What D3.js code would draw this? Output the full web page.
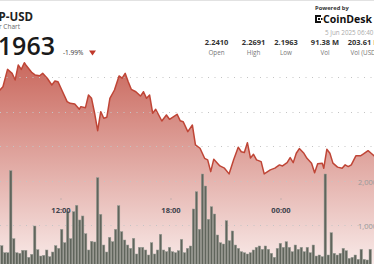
<!DOCTYPE html>
<html>
<head>
<meta charset="utf-8">
<script src="https://cdn.jsdelivr.net/npm/d3@7"></script>
<style>
body { margin: 0; background: #fff; }
svg { display: block; font-family: "Open Sans", sans-serif; }
</style>
</head>
<body>
<script>
// price line (10 min-ish samples, 4 Jun -> 5 Jun 2025)
var priceTimes = ["08:30","08:40","08:50","09:05","09:20","09:30","09:40","09:50","10:00","10:05","10:25","10:35","10:50","11:00","11:15","11:30","11:40","11:50","12:00","12:20","12:30","12:45","13:00","13:05","13:20","13:30","13:40","13:50","14:00","14:10","14:20","14:30","14:40","14:55","15:10","15:20","15:30","15:40","15:50","16:05","16:20","16:30","16:40","16:50","17:00","17:10","17:30","17:45","17:55","18:20","18:30","18:40","18:55","19:10","19:20","19:35","19:50","20:00","20:10","20:20","20:40","20:55","21:10","21:25","21:40","21:50","22:00","22:10","22:20","22:30","22:40","22:55","23:05","23:25","23:40","23:55","00:05","00:20","00:30","00:40","00:50","01:00","01:15","01:25","01:40","01:50","02:00","02:15","02:20","02:30","02:40","02:50","03:05","03:20","03:30","03:40","03:50","04:05","04:20","04:30","04:45","04:55","05:05","05:20"];
var priceValues = [2.2500,2.2525,2.2544,2.2644,2.2621,2.2583,2.2669,2.2644,2.2682,2.2669,2.2625,2.2612,2.2607,2.2621,2.2593,2.2554,2.2577,2.2573,2.2535,2.2458,2.2448,2.2444,2.2414,2.2429,2.2423,2.2496,2.2477,2.2391,2.2290,2.2400,2.2362,2.2368,2.2477,2.2525,2.2606,2.2593,2.2621,2.2573,2.2529,2.2515,2.2490,2.2515,2.2477,2.2496,2.2391,2.2414,2.2346,2.2381,2.2356,2.2385,2.2348,2.2342,2.2285,2.2323,2.2208,2.2189,2.2131,2.2122,2.2054,2.2126,2.2087,2.2074,2.2041,2.2122,2.2195,2.2169,2.2164,2.2221,2.2133,2.2154,2.2122,2.2112,2.2041,2.2064,2.2074,2.2093,2.2087,2.2106,2.2135,2.2106,2.2160,2.2187,2.2160,2.2131,2.2103,2.2048,2.2099,2.2103,2.2074,2.2183,2.2160,2.2103,2.2080,2.2074,2.2093,2.2083,2.2093,2.2145,2.2145,2.2156,2.2175,2.2160,2.2145,2.2120];

// volume bars, left to right
var volumes = [530,370,370,2234,689,370,357,425,425,266,
  334,977,439,295,311,432,280,386,530,470,
  902,598,1302,689,1302,1448,1114,1205,802,432,
  630,614,2075,1243,545,386,720,620,902,1439,
  848,659,
  545,470,698,341,493,493,432,318,598,341,
  432,789,432,393,493,393,370,416,675,370,
  470,523,1364,1757,902,2159,1886,1130,1416,1250,
  773,598,568,1098,643,864,545,470,393,370,
  341,
  370,432,493,523,448,523,448,357,266,470,
  584,493,620,493,393,545,448,493,393,493,
  370,545,295,318,280,2159,318,825,357,318,
  357,470,416,243,266,318,220,448,220,205,
  448];

var priceGrid = [2.22, 2.24, 2.26];
var volGrid = [1000, 2000];
var timeTicks = ["12:00", "18:00", "00:00"];

var statValues = ["2.2410", "2.2691", "2.1963", "91.38 M", "203.61 M"];
var statLabels = ["Open", "High", "Low", "Vol", "Vol (USD)"];

var width = 374, height = 264;

function parseT(s) {
  var h = +s.slice(0, 2), m = +s.slice(3, 5);
  return new Date(2025, 5, h < 8 ? 5 : 4, h, m);
}

var svg = d3.select("body").append("svg")
  .attr("width", width)
  .attr("height", height);

var x = d3.scaleTime()
  .domain([new Date(2025, 5, 4, 12, 0), new Date(2025, 5, 5, 0, 0)])
  .range([61, 281]);
var y = d3.scaleLinear().domain([2.20, 2.26]).range([181, 77]);
var yv = d3.scaleLinear().domain([0, 2000]).range([269, 181]);
var xb = d3.scaleBand().domain(d3.range(volumes.length)).range([0, 372]).padding(0.18);

var pts = priceTimes.map(function(t, i) { return [parseT(t), priceValues[i]]; });

var defs = svg.append("defs");
var grad = defs.append("linearGradient").attr("id", "fillg")
  .attr("gradientUnits", "userSpaceOnUse")
  .attr("x1", 0).attr("x2", 0).attr("y1", 60).attr("y2", 275);
grad.append("stop").attr("offset", 0).attr("stop-color", "#c9675c");
grad.append("stop").attr("offset", 1).attr("stop-color", "#fbf1f0");

// top border
svg.append("line").attr("x1", 0).attr("x2", width).attr("y1", 0.5).attr("y2", 0.5)
  .attr("stroke", "#e2e2e2");

// area under price
svg.append("path").datum(pts)
  .attr("fill", "url(#fillg)")
  .attr("d", d3.area().x(function(d) { return x(d[0]); }).y0(280).y1(function(d) { return y(d[1]); }));

// grid
svg.selectAll(".pg").data(priceGrid).enter().append("line")
  .attr("x1", 0).attr("x2", width)
  .attr("y1", function(d) { return Math.round(y(d)) + 0.5; })
  .attr("y2", function(d) { return Math.round(y(d)) + 0.5; })
  .attr("stroke", "#c4c4c4").attr("stroke-dasharray", "1,5.5");
svg.selectAll(".vg").data(volGrid).enter().append("line")
  .attr("x1", 0).attr("x2", width)
  .attr("y1", function(d) { return Math.round(yv(d)) + 0.5; })
  .attr("y2", function(d) { return Math.round(yv(d)) + 0.5; })
  .attr("stroke", "#c4c4c4").attr("stroke-dasharray", "1,5.5");

// volume bars
svg.selectAll(".bar").data(volumes).enter().append("rect")
  .attr("x", function(d, i) { return xb(i); })
  .attr("width", xb.bandwidth())
  .attr("y", function(d) { return yv(d); })
  .attr("height", function(d) { return yv(0) - yv(d); })
  .attr("fill", "#60655c")
  .attr("stroke", "#9a9d96").attr("stroke-width", 0.5);

// price line
svg.append("path").datum(pts)
  .attr("fill", "none")
  .attr("stroke", "#bf4536")
  .attr("stroke-width", 1.5)
  .attr("stroke-linejoin", "round")
  .attr("d", d3.line().x(function(d) { return x(d[0]); }).y(function(d) { return y(d[1]); }));

// time axis
var tk = svg.selectAll(".tk").data(timeTicks).enter().append("g")
  .attr("transform", function(d) { return "translate(" + x(parseT(d)) + ",0)"; });
tk.append("rect").attr("x", -0.5).attr("y", 198.5).attr("width", 1).attr("height", 1).attr("fill", "#9a9a9a");
tk.append("text").attr("y", 213).attr("text-anchor", "middle")
  .style("font-size", "7.5px").style("font-weight", "bold").attr("fill", "#3c414b")
  .text(function(d) { return d; });

// volume axis labels
svg.selectAll(".vl").data(volGrid).enter().append("text")
  .attr("x", 358).attr("y", function(d) { return yv(d) + 4; })
  .style("font-size", "7.5px").attr("fill", "#999")
  .text(function(d) { return d3.format(",")(d); });

// header left
svg.append("text").attr("x", 33).attr("y", 21).attr("text-anchor", "end")
  .style("font-size", "11.5px").style("font-weight", "bold").attr("fill", "#222")
  .text("XRP-USD");
svg.append("text").attr("x", 20).attr("y", 28.5).attr("text-anchor", "end")
  .style("font-size", "6.5px").attr("fill", "#666")
  .text("24 Hour Chart");
svg.append("text").attr("x", 55).attr("y", 55).attr("text-anchor", "end")
  .style("font-size", "25px").style("font-weight", 600).attr("fill", "#1a1a1a")
  .text("2.1963");
svg.append("text").attr("x", 63).attr("y", 54.5)
  .style("font-size", "6.5px").attr("fill", "#333")
  .text("-1.99%");
svg.append("path").attr("d", "M89,50.5 L96,50.5 L92.5,55.5 Z").attr("fill", "#c0392b");

// header right
svg.append("text").attr("x", 315).attr("y", 9.5)
  .style("font-size", "5.8px").style("font-weight", "bold").attr("fill", "#333")
  .text("Powered by");
var logo = svg.append("g").attr("transform", "translate(315,15)");
logo.append("rect").attr("x", 0).attr("y", 0).attr("width", 2).attr("height", 8).attr("fill", "#111");
logo.append("rect").attr("x", 0).attr("y", 0).attr("width", 6).attr("height", 2).attr("fill", "#111");
logo.append("rect").attr("x", 0).attr("y", 6).attr("width", 6).attr("height", 2).attr("fill", "#111");
logo.append("rect").attr("x", 3).attr("y", 3).attr("width", 2).attr("height", 2).attr("fill", "#111");
logo.append("rect").attr("x", 6).attr("y", 3).attr("width", 1.5).attr("height", 2).attr("fill", "#111");
svg.append("text").attr("x", 323).attr("y", 22.5)
  .style("font-size", "10.5px").style("font-weight", "bold").attr("fill", "#111")
  .text("CoinDesk Data");
svg.append("text").attr("x", 325).attr("y", 34.5)
  .style("font-size", "6.3px").attr("fill", "#aaa")
  .text("5 Jun 2025 06:40 (UTC)");

var statX = [216.5, 253.5, 286, 325, 364];
svg.selectAll(".sv").data(statValues).enter().append("text")
  .attr("x", function(d, i) { return statX[i]; }).attr("y", 44.5)
  .attr("text-anchor", "middle")
  .style("font-size", "7.5px").style("font-weight", "bold").attr("fill", "#333")
  .text(function(d) { return d; });
svg.selectAll(".sl").data(statLabels).enter().append("text")
  .attr("x", function(d, i) { return statX[i]; }).attr("y", 55)
  .attr("text-anchor", "middle")
  .style("font-size", "6.3px").attr("fill", "#777")
  .text(function(d) { return d; });
</script>
</body>
</html>
